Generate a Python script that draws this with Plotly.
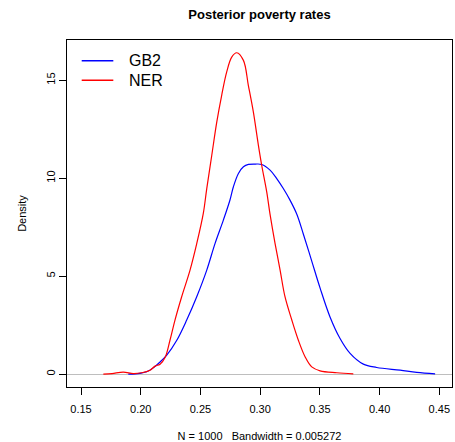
import plotly.graph_objects as go

# Density estimates (x = poverty rate, y = density)
gb2_x = [0.1896, 0.1994, 0.2050, 0.2105, 0.2162, 0.2218, 0.2302, 0.2385, 0.2469, 0.2553,
         0.2622, 0.2692, 0.2748, 0.2776, 0.2818, 0.2860, 0.2902, 0.2960, 0.3013, 0.3083,
         0.3139, 0.3194, 0.3250, 0.3307, 0.3362, 0.3432, 0.3502, 0.3585, 0.3669, 0.3753,
         0.3864, 0.3976, 0.4172, 0.4311, 0.4465]
gb2_y = [0.00, 0.04, 0.12, 0.32, 0.62, 0.97, 1.73, 2.76, 3.95, 5.31,
         6.66, 7.86, 8.90, 9.56, 10.24, 10.58, 10.70, 10.72, 10.70, 10.41,
         9.98, 9.47, 8.88, 8.16, 7.14, 5.77, 4.39, 2.92, 1.82, 1.06,
         0.51, 0.34, 0.20, 0.09, 0.01]

ner_x = [0.1687, 0.1760, 0.1854, 0.1938, 0.2008, 0.2078, 0.2120, 0.2162, 0.2204, 0.2245,
         0.2287, 0.2343, 0.2413, 0.2469, 0.2524, 0.2553, 0.2595, 0.2637, 0.2678, 0.2720,
         0.2762, 0.2804, 0.2860, 0.2901, 0.2943, 0.2985, 0.3013, 0.3055, 0.3083, 0.3125,
         0.3167, 0.3208, 0.3265, 0.3320, 0.3376, 0.3432, 0.3502, 0.3642, 0.3780]
ner_y = [0.00, 0.03, 0.10, 0.03, 0.07, 0.20, 0.41, 0.51, 0.85, 1.73,
         2.76, 3.95, 5.31, 6.66, 8.20, 9.47, 11.17, 12.87, 14.23, 15.42,
         16.18, 16.40, 16.01, 14.74, 13.38, 11.69, 10.66, 9.30, 8.15, 6.66,
         5.31, 3.95, 2.76, 1.73, 0.89, 0.37, 0.17, 0.07, 0.01]

x_ticks = [0.15, 0.20, 0.25, 0.30, 0.35, 0.40, 0.45]
x_tick_labels = ["0.15", "0.20", "0.25", "0.30", "0.35", "0.40", "0.45"]
y_ticks = [0, 5, 10, 15]
y_tick_labels = ["0", "5", "10", "15"]
series_names = ["GB2", "NER"]
series_colors = ["#0000FF", "#FF0000"]

FONT = "Liberation Sans, Arial, Helvetica, sans-serif"

fig = go.Figure()
for name, xs, ys, col in [(series_names[0], gb2_x, gb2_y, series_colors[0]),
                          (series_names[1], ner_x, ner_y, series_colors[1])]:
    fig.add_trace(go.Scatter(x=xs, y=ys, mode="lines", name=name, showlegend=False,
                             hoverinfo="skip",
                             line=dict(color=col, width=1.2, shape="spline", smoothing=1.0)))

# Legend drawn R-style (no box), in plot-area paper coordinates
legend_rows_y = [0.9403, 0.8839]
for name, col, ly in zip(series_names, series_colors, legend_rows_y):
    fig.add_shape(type="line", xref="paper", yref="paper", x0=0.0382, x1=0.1203,
                  y0=ly, y1=ly, line=dict(color=col, width=1.5))
    fig.add_annotation(text=name, xref="paper", yref="paper", x=0.1553, y=ly,
                       xanchor="left", yanchor="middle", showarrow=False,
                       font=dict(size=16, family=FONT, color="black"))

fig.update_layout(
    width=455, height=442,
    margin=dict(l=67, r=3, t=40, b=55, autoexpand=False),
    paper_bgcolor="white", plot_bgcolor="white",
    font=dict(family=FONT, color="black", size=11),
    title=dict(text="<b>Posterior poverty rates</b>", x=259.5 / 455, xanchor="center",
               xref="container", yref="container",
               y=1 - 14.0 / 442, yanchor="middle", font=dict(size=13, family=FONT),
               automargin=False),
    showlegend=False,
    hovermode=False,
)

fig.update_xaxes(
    range=[0.13828, 0.46063], tickvals=x_ticks, ticktext=x_tick_labels,
    showgrid=False, zeroline=False, automargin=False,
    showline=True, linecolor="black", linewidth=1, mirror=True,
    ticks="outside", ticklen=7, tickcolor="black", tickwidth=1,
    ticklabelstandoff=5,
    tickfont=dict(size=11, family=FONT),
    title=dict(text="N = 1000\u00a0\u00a0 Bandwidth = 0.005272",
               font=dict(size=11, family=FONT), standoff=18),
)
fig.update_yaxes(
    range=[-0.656, 17.05], tickvals=y_ticks, ticktext=y_tick_labels,
    showgrid=False, zeroline=True, zerolinecolor="#bebebe", zerolinewidth=1,
    automargin=False,
    showline=True, linecolor="black", linewidth=1, mirror=True,
    ticks="outside", ticklen=7, tickcolor="black", tickwidth=1,
    tickangle=-90, tickfont=dict(size=11, family=FONT),
    title=dict(text="Density", font=dict(size=11, family=FONT), standoff=15),
)

fig.write_html("out.html",
               config={"displayModeBar": False, "staticPlot": True},
               post_script="document.body.style.margin='0';document.body.style.overflow='hidden';")
